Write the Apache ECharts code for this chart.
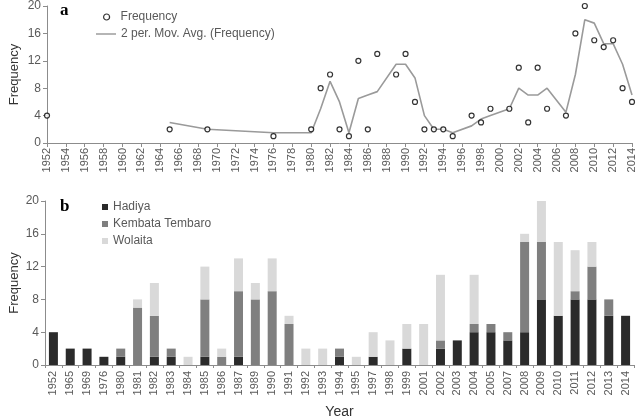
<!DOCTYPE html>
<html><head><meta charset="utf-8">
<script src="https://cdn.jsdelivr.net/npm/echarts@6/dist/echarts.min.js"></script>
<style>html,body{margin:0;padding:0;background:#fff}#c{width:638px;height:416px}</style>
</head><body><div id="c"></div>
<script>
const years = ['1952','1965','1969','1976','1980','1981','1982','1983','1984','1985','1986','1987','1989','1990','1991','1992','1993','1994','1995','1997','1998','1999','2001','2002','2003','2004','2005','2007','2008','2009','2010','2011','2012','2013','2014'];
const frequency = [4,2,2,1,2,8,10,2,1,12,2,13,10,13,6,2,2,2,1,4,3,5,5,11,3,11,5,4,16,20,15,14,15,8,6];
const movAvg = [null,3,2,1.5,1.5,5,9,6,1.5,6.5,7,7.5,11.5,11.5,9.5,4,2,2,1.5,2.5,3.5,4,5,8,7,7,8,4.5,10,18,17.5,14.5,14.5,11.5,7];
const hadiya  = [4,2,2,1,1,0,1,1,0,1,0,1,0,0,0,0,0,1,0,1,0,2,0,2,3,4,4,3,4,8,6,8,8,6,6];
const kembata = [0,0,0,0,1,7,5,1,0,7,1,8,8,9,5,0,0,1,0,0,0,0,0,1,0,1,1,1,11,7,0,1,4,2,0];
const wolaita = [0,0,0,0,0,1,4,0,1,4,1,4,2,4,1,2,2,0,1,3,3,3,5,8,0,6,0,0,1,5,9,5,3,0,0];

const font = 'Liberation Sans, Arial, sans-serif';
const axisGrey = '#8c8c8c';
const labelGrey = '#595959';

const chart = echarts.init(document.getElementById('c'));
const freqPts = years.map((y,i)=>[+y, frequency[i]]);
const avgPts = years.map((y,i)=>[+y, movAvg[i]]).filter(p=>p[1]!==null);
const legText = {fontSize:12, color:labelGrey, fontFamily:font};

chart.setOption({
  animation:false,
  textStyle:{fontFamily:font},
  graphic:[
    {type:'text', left:60, top:2, style:{text:'a', font:'bold 17px "Liberation Serif", serif', fill:'#000'}},
    {type:'text', left:60, top:198, style:{text:'b', font:'bold 17px "Liberation Serif", serif', fill:'#000'}}
  ],
  legend:[
    {left:103, top:11, padding:0, itemWidth:6, itemHeight:6,
     textStyle:Object.assign({padding:[0,0,0,6]}, legText),
     data:[{name:'Frequency', icon:'circle', itemStyle:{color:'#fff', borderColor:'#000', borderWidth:1.2}}]},
    {left:96, top:28, padding:0, itemWidth:20, itemHeight:8, textStyle:legText,
     data:[{name:'2 per. Mov. Avg. (Frequency)', icon:'path://M0,0H22V1.6H0Z', itemStyle:{color:'#9a9a9a'}}]},
    {orient:'vertical', left:102, top:201, padding:0, itemGap:5, itemWidth:6, itemHeight:6,
     textStyle:Object.assign({lineHeight:12}, legText),
     data:[{name:'Hadiya',icon:'rect'},{name:'Kembata Tembaro',icon:'rect'},{name:'Wolaita',icon:'rect'}]}
  ],
  grid:[
    {left:47, right:6, top:6, height:137, outerBoundsMode:'none'},
    {left:45, right:4, top:201, height:164, outerBoundsMode:'none'}
  ],
  xAxis:[
    {gridIndex:0, type:'value', min:1952, max:2014, interval:2,
     axisLine:{lineStyle:{color:axisGrey}}, axisTick:{show:true, length:4, lineStyle:{color:axisGrey}},
     splitLine:{show:false},
     axisLabel:{rotate:90, fontSize:11, color:labelGrey, margin:5, formatter:v=>String(v)}},
    {gridIndex:1, type:'category', data:years, name:'Year', nameLocation:'middle', nameGap:40, nameMoveOverlap:false,
     nameTextStyle:{fontSize:14, color:'#333'},
     axisLine:{lineStyle:{color:axisGrey}}, axisTick:{show:true, length:3, lineStyle:{color:axisGrey}},
     axisLabel:{rotate:90, fontSize:11, color:labelGrey, margin:6, interval:0}}
  ],
  yAxis:[
    {gridIndex:0, type:'value', min:0, max:20, interval:4, name:'Frequency', nameLocation:'middle', nameGap:26, nameMoveOverlap:false,
     nameTextStyle:{fontSize:13, color:'#333'},
     axisLine:{show:true, lineStyle:{color:axisGrey}}, axisTick:{show:true, length:4, lineStyle:{color:axisGrey}},
     splitLine:{show:false}, axisLabel:{fontSize:12, color:labelGrey, margin:6}},
    {gridIndex:1, type:'value', min:0, max:20, interval:4, name:'Frequency', nameLocation:'middle', nameGap:24, nameMoveOverlap:false,
     nameTextStyle:{fontSize:13, color:'#333'},
     axisLine:{show:true, lineStyle:{color:axisGrey}}, axisTick:{show:true, length:4, lineStyle:{color:axisGrey}},
     splitLine:{show:false}, axisLabel:{fontSize:12, color:labelGrey, margin:6}}
  ],
  series:[
    {name:'2 per. Mov. Avg. (Frequency)', type:'line', xAxisIndex:0, yAxisIndex:0, data:avgPts,
     symbol:'none', lineStyle:{color:'#9a9a9a', width:1.6}, itemStyle:{color:'#9a9a9a'}, z:2},
    {name:'Frequency', type:'scatter', xAxisIndex:0, yAxisIndex:0, data:freqPts,
     symbol:'circle', symbolSize:5, itemStyle:{color:'#fff', borderColor:'#000', borderWidth:1.2}, z:3},
    {name:'Hadiya', type:'bar', stack:'s', xAxisIndex:1, yAxisIndex:1, data:hadiya, barWidth:9,
     itemStyle:{color:'#2b2b2b'}},
    {name:'Kembata Tembaro', type:'bar', stack:'s', xAxisIndex:1, yAxisIndex:1, data:kembata, barWidth:9,
     itemStyle:{color:'#7f7f7f'}},
    {name:'Wolaita', type:'bar', stack:'s', xAxisIndex:1, yAxisIndex:1, data:wolaita, barWidth:9,
     itemStyle:{color:'#d9d9d9'}}
  ]
});
</script></body></html>
